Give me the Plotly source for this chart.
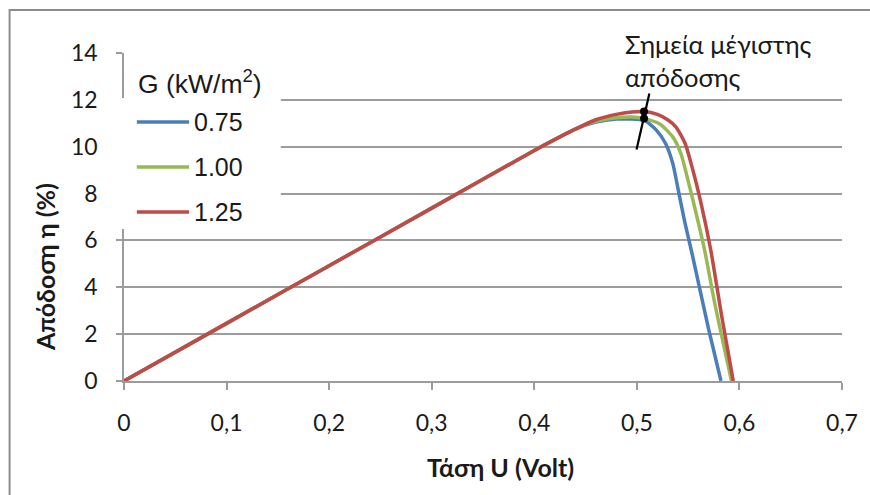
import plotly.graph_objects as go

# Efficiency of a PV cell vs. terminal voltage for three irradiance levels
# Common rising branch (current ~ constant, so efficiency grows linearly with U)
U_COMMON = [0.0, 0.1, 0.2, 0.3, 0.4, 0.44]
ETA_COMMON = [0.0, 2.46, 4.92, 7.38, 9.84, 10.75]

# Knee and fall-off for each irradiance
U_075 = [0.46, 0.48, 0.493, 0.507, 0.519, 0.528, 0.535, 0.541, 0.547, 0.554, 0.570, 0.582]
ETA_075 = [11.05, 11.18, 11.18, 11.13, 10.71, 10.14, 9.29, 8.01, 6.73, 5.40, 2.20, 0.0]

U_100 = [0.46, 0.48, 0.495, 0.507, 0.522, 0.535, 0.543, 0.549, 0.557, 0.566, 0.576, 0.5923]
ETA_100 = [11.08, 11.24, 11.27, 11.20, 10.98, 10.42, 9.70, 8.72, 7.30, 5.60, 3.30, 0.0]

U_125 = [0.46, 0.48, 0.495, 0.507, 0.520, 0.530, 0.538, 0.547, 0.554, 0.562, 0.572, 0.583, 0.594]
ETA_125 = [11.15, 11.38, 11.48, 11.50, 11.38, 11.15, 10.85, 10.15, 9.10, 7.70, 5.60, 2.70, 0.0]

# Maximum-efficiency points that the callout marks
MPP_U = [0.507, 0.507]
MPP_ETA = [11.50, 11.20]

SERIES = [
    ("0.75", U_075, ETA_075, "#4A7EBB"),
    ("1.00", U_100, ETA_100, "#98B954"),
    ("1.25", U_125, ETA_125, "#BE4B48"),
]

X_TICKS = [0, 0.1, 0.2, 0.3, 0.4, 0.5, 0.6, 0.7]
X_TICK_TEXT = ["0", "0,1", "0,2", "0,3", "0,4", "0,5", "0,6", "0,7"]
Y_TICKS = [0, 2, 4, 6, 8, 10, 12, 14]

W, H = 870, 495
ML, MR, MT, MB = 124, 18, 53, 114
PW, PH = W - ML - MR, H - MT - MB

TICK_FONT = "Lato, 'Open Sans', sans-serif"
LEG_FONT = "'Liberation Sans', Arial, sans-serif"
TEXT = "#1a1a1a"
GRID = "#9C9C9C"


def px(x):
    return (x - ML) / PW


def py(y):
    return (H - MB - y) / PH


fig = go.Figure()

for name, u, eta, color in SERIES:
    fig.add_trace(go.Scatter(
        x=U_COMMON + u, y=ETA_COMMON + eta, mode="lines", name=name,
        line=dict(color=color, width=3.5, shape="spline", smoothing=0.6),
        showlegend=False,
    ))

fig.add_trace(go.Scatter(
    x=MPP_U, y=MPP_ETA, mode="markers", showlegend=False,
    marker=dict(color="black", size=8),
))

shapes = [
    # outer chart frame
    dict(type="rect", xref="paper", yref="paper",
         x0=px(8), x1=px(885), y0=py(10), y1=py(510),
         line=dict(color="#8C8C8C", width=2), fillcolor="rgba(0,0,0,0)", layer="above"),
    # callout stroke through the maximum points
    dict(type="line", xref="x", yref="y", x0=0.4997, y0=9.88, x1=0.5122, y1=12.27,
         line=dict(color="black", width=2.2), layer="above"),
    # legend background
    dict(type="rect", xref="paper", yref="paper",
         x0=px(106), x1=px(283), y0=py(98), y1=py(229),
         line=dict(width=0), fillcolor="white", layer="above"),
]

annotations = [
    dict(text="Σημεία μέγιστης<br>απόδοσης", xref="paper", yref="paper",
         x=px(630), y=py(27), xanchor="left", yanchor="top", align="left",
         showarrow=False, font=dict(family=TICK_FONT, size=25.5, color=TEXT)),
    dict(text="Τάση U (Volt)", xref="paper", yref="paper",
         x=px(506), y=py(467), xanchor="center", yanchor="middle",
         showarrow=False, font=dict(family=TICK_FONT, size=25, color=TEXT, weight="bold")),
    dict(text="Απόδοση η (%)", xref="paper", yref="paper", textangle=-90,
         x=px(44), y=py(267), xanchor="center", yanchor="middle",
         showarrow=False, font=dict(family=TICK_FONT, size=25, color=TEXT, weight="bold")),
    dict(text="G (kW/m<sup>2</sup>)", xref="paper", yref="paper",
         x=px(136), y=py(82), xanchor="left", yanchor="middle",
         showarrow=False, font=dict(family=LEG_FONT, size=26.5, color=TEXT)),
]

for i, (name, u, eta, color) in enumerate(SERIES):
    ly = 122 + 45 * i
    shapes.append(dict(type="line", xref="paper", yref="paper",
                       x0=px(137), x1=px(190), y0=py(ly), y1=py(ly),
                       line=dict(color=color, width=3.5), layer="above"))
    annotations.append(dict(text=name, xref="paper", yref="paper",
                            x=px(193), y=py(ly), xanchor="left", yanchor="middle",
                            showarrow=False,
                            font=dict(family=LEG_FONT, size=25, color=TEXT)))

fig.update_layout(
    width=W, height=H,
    margin=dict(l=ML, r=MR, t=MT, b=MB, pad=0),
    paper_bgcolor="white", plot_bgcolor="white",
    shapes=shapes, annotations=annotations,
    showlegend=False,
)

fig.update_xaxes(
    range=[0, 0.7], tickvals=X_TICKS, ticktext=X_TICK_TEXT,
    showgrid=False, zeroline=False,
    showline=True, linecolor=GRID, linewidth=1.5,
    ticks="outside", ticklen=7, tickwidth=1.5, tickcolor=GRID,
    ticklabelstandoff=14,
    tickfont=dict(family=TICK_FONT, size=23, color=TEXT),
)
fig.update_yaxes(
    range=[0, 14], tickvals=Y_TICKS,
    showgrid=True, gridcolor=GRID, gridwidth=1.5, zeroline=False,
    showline=True, linecolor=GRID, linewidth=1.5,
    ticks="outside", ticklen=6, tickwidth=1.5, tickcolor=GRID,
    ticklabelstandoff=14,
    tickfont=dict(family=TICK_FONT, size=23, color=TEXT),
)

fig.write_html("out.html")
